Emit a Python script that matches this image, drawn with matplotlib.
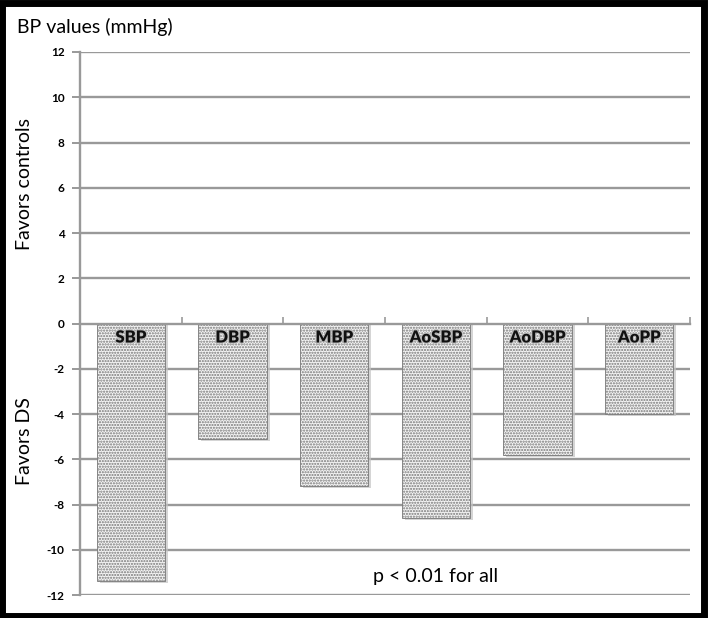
import numpy as np
import matplotlib
matplotlib.use("Agg")
import matplotlib.pyplot as plt
import matplotlib.patches as mpatches
import matplotlib.patheffects as pe

# data
categories = ["SBP", "DBP", "MBP", "AoSBP", "AoDBP", "AoPP"]
values = [-11.4, -5.1, -7.2, -8.6, -5.8, -4.0]
yticks = list(range(-12, 13, 2))

plt.rcParams['font.family'] = ['Lato', 'DejaVu Sans']
plt.rcParams['hatch.color'] = '#404040'
plt.rcParams['hatch.linewidth'] = 1.05

fig = plt.figure(figsize=(7.09, 6.18), dpi=100)
ax = fig.add_axes([80/709, 1 - 595/618, 610/709, 543/618])

x = np.arange(len(categories))
grid_col = '#999999'

for t in yticks:
    if t != 0:
        ax.axhline(t, color=grid_col, lw=1.7, zorder=0)

# soft shadow behind the bars
ax.bar(x + 0.03, np.array(values) - 0.08, width=0.67, bottom=0, color='#c4c4c4',
       edgecolor='none', zorder=1, alpha=0.7)
bars = ax.bar(x, values, width=0.67, facecolor='#f4f4f4', edgecolor='#777777',
              linewidth=0.6, hatch='......', zorder=2)

for xi, name in zip(x, categories):
    ax.text(xi, -0.62, name, ha='center', va='center', fontsize=12,
            fontweight='heavy', color='#111111', zorder=4,
            path_effects=[pe.withStroke(linewidth=1.5, foreground='#bbbbbb')])

ax.set_xlim(-0.5, len(categories) - 0.5)
ax.set_ylim(-12, 12)
ax.set_yticks(yticks)
ax.set_yticklabels([str(t) for t in yticks], fontsize=8.5, fontweight='bold')
ax.set_xticks(list(x[:-1] + 0.5) + [len(categories) - 0.5])
ax.set_xticklabels([])

for s in ['top', 'right']:
    ax.spines[s].set_visible(False)
ax.spines['left'].set_color(grid_col)
ax.spines['left'].set_linewidth(1.7)
ax.spines['bottom'].set_position(('data', 0))
ax.spines['bottom'].set_color(grid_col)
ax.spines['bottom'].set_linewidth(1.7)
ax.spines['bottom'].set_zorder(3)
ax.tick_params(axis='y', direction='out', length=6, width=1.4, color=grid_col, pad=5)
ax.tick_params(axis='x', direction='in', length=5, width=1.2, color=grid_col)

ax.text(3.0, -11.2, "p < 0.01 for all", ha='center', va='center', fontsize=14)

fig.text(17/709, 1 - 27/618, "BP values (mmHg)", ha='left', va='center', fontsize=14)
fig.text(25/709, 1 - 184/618, "Favors controls", ha='center', va='center',
         rotation=90, fontsize=14)
fig.text(25/709, 1 - 441/618, "Favors DS", ha='center', va='center',
         rotation=90, fontsize=14)

# black frame around the whole picture
fig.patches.append(mpatches.Rectangle((2/709, 2/618), 702/709, 613/618,
                                      transform=fig.transFigure, fill=False,
                                      edgecolor='black', linewidth=5))

fig.savefig("out.png", dpi=100)
